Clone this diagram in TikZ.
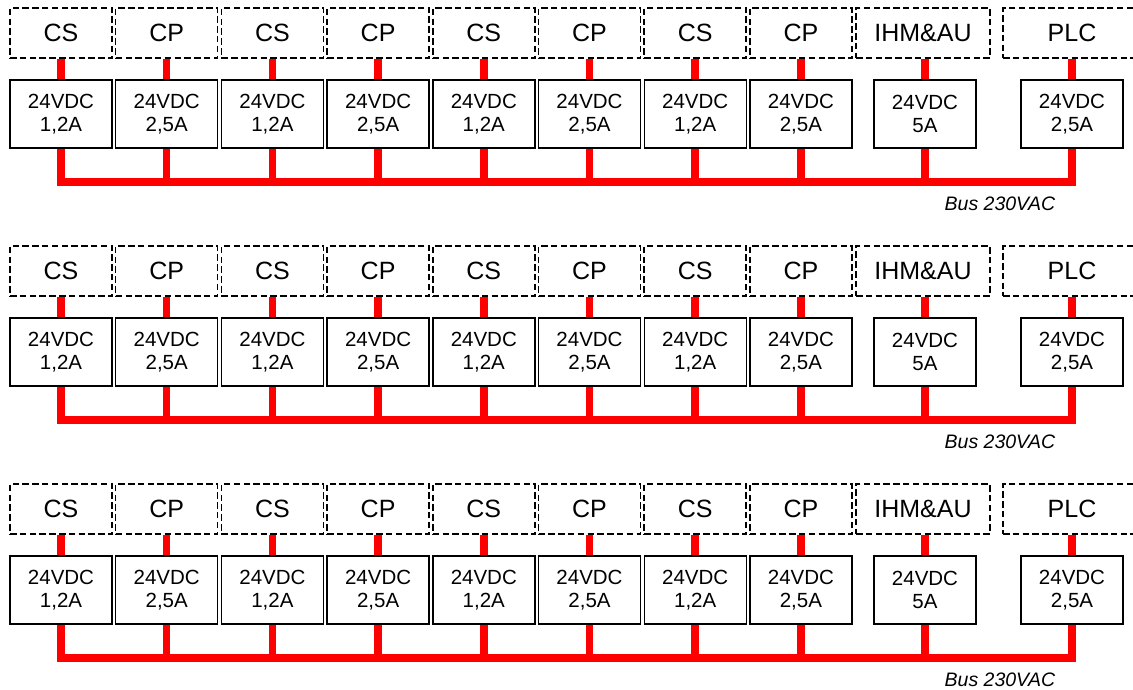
\documentclass[tikz,border=0pt]{standalone}
\usepackage{fontspec}
\setmainfont{Liberation Sans}
\usetikzlibrary{backgrounds}
\tikzset{
  unitbox/.style={draw, line width=1.4pt, minimum width=102pt, minimum height=68pt,
    inner sep=0pt, align=center, font=\fontsize{20.5}{23}\selectfont},
  loadbox/.style={draw, dash pattern=on 6.5pt off 3.3pt, line width=1.5pt,
    minimum height=50pt, inner sep=0pt, font=\fontsize{25}{28}\selectfont},
  feed/.style={red, line width=7.5pt},
  buslabel/.style={inner sep=0pt, font=\fontsize{19.5}{22}\selectfont\itshape}
}
\begin{document}
\begin{tikzpicture}[x=1pt, y=-1pt]
\clip (0,0) rectangle (1133,689);
\foreach \r in {1,2,3}{
  \pgfmathsetmacro\o{238*(\r-1)}
  \foreach \i in {1,...,8}{
    \pgfmathsetmacro\xx{61+105.7*(\i-1)}
    \ifodd\i\relax \def\lbl{CS}\def\cur{1,2A}\else \def\lbl{CP}\def\cur{2,5A}\fi
    \node[loadbox, minimum width=102pt] (d-\r-\i) at (\xx,33+\o) {\lbl};
    \node[unitbox] (p-\r-\i) at (\xx,114+\o) {24VDC\\\cur};
  }
  \node[loadbox, minimum width=134pt] (d-\r-9) at (923,33+\o) {IHM\&AU};
  \node[unitbox] (p-\r-9) at (925,114+\o) {24VDC\\5A};
  \node[loadbox, minimum width=138pt] (d-\r-10) at (1072,33+\o) {PLC};
  \node[unitbox] (p-\r-10) at (1072,114+\o) {24VDC\\2,5A};
  \coordinate (bus-\r) at (0,182+\o);
  \node[buslabel] (lab-\r) at (1000,204+\o) {Bus 230VAC};
  \begin{scope}[on background layer]
    \foreach \i in {1,...,10}{
      \draw[feed] (p-\r-\i.north |- d-\r-\i.south) -- (p-\r-\i.north);
    }
    \draw[feed, line join=miter] (p-\r-1.south) -- (p-\r-1.south |- bus-\r)
      -- (p-\r-10.south |- bus-\r) -- (p-\r-10.south);
    \foreach \i in {2,...,9}{
      \draw[feed] (p-\r-\i.south) -- (p-\r-\i.south |- bus-\r);
    }
  \end{scope}
}
\end{tikzpicture}
\end{document}
